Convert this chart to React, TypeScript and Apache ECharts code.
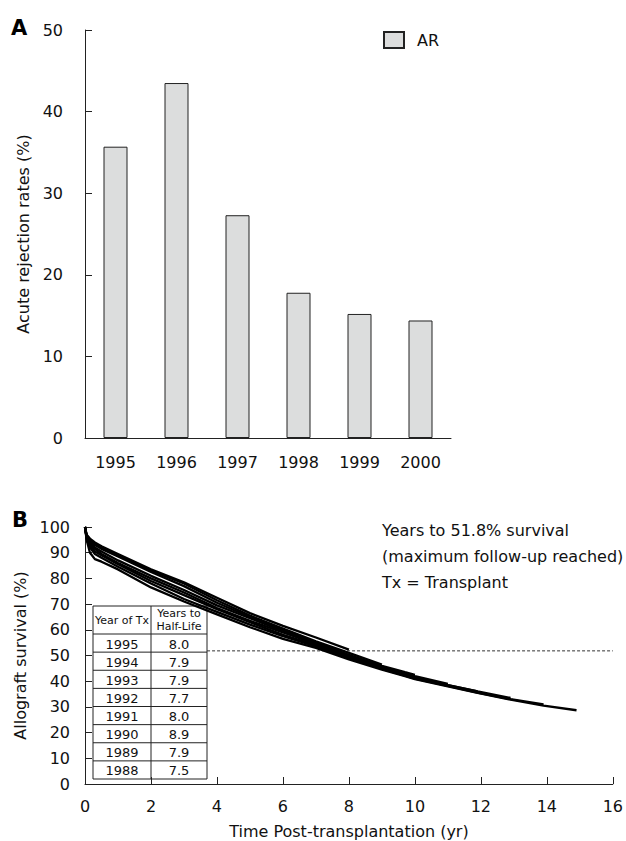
import React, { useEffect, useRef } from "react";
import * as echarts from "echarts";

// ---------- Panel A data ----------
const arYears = ["1995", "1996", "1997", "1998", "1999", "2000"];
const arRates = [35.7, 43.5, 27.3, 17.8, 15.2, 14.4];

// ---------- Panel B data ----------
const timeGrid = [0, 0.05, 0.15, 0.3, 0.5, 1, 2, 3, 4, 5, 6, 7, 8, 9, 9.7, 10, 11, 11.9, 12.9, 13.9, 14.9];
const surv1995 = [100, 97, 95.5, 94, 92.5, 89.5, 83.5, 78.5, 72.5, 66.5, 61.5, 57, 52.3];
const surv1994 = [100, 96.8, 95, 93.5, 92, 89, 83, 78, 71.5, 65.5, 60.5, 55.5, 51, 46.5];
const surv1993 = [100, 96.5, 94.5, 93, 91.5, 88.5, 82.5, 77, 70.5, 65, 60, 55, 50.3, 46, 43.5, 42.5];
const surv1992 = [100, 96.2, 94, 92, 90.5, 87, 81, 75.5, 69.5, 64.5, 59.5, 54.5, 49.8, 45.5, 43, 42, 39];
const surv1991 = [100, 96, 93.5, 91.5, 89.5, 86, 80, 74.5, 68.5, 63.5, 59, 54.5, 50, 45.5, 42.5, 41.5, 38.5, 36];
const surv1990 = [100, 95.8, 93, 90.5, 89, 85.5, 79, 73.5, 68, 63, 58, 54, 49.5, 45, 42.5, 41.5, 38.5, 36, 33.5];
const surv1989 = [100, 95.5, 92, 89.5, 88, 84.5, 78, 72, 67, 62, 57.5, 53.5, 49, 44.8, 42.2, 41, 38.2, 35.6, 33, 31];
const surv1988 = [100, 95, 90, 87.5, 86.5, 83.5, 76.5, 71, 66, 61, 56.5, 53, 48.5, 44.5, 42, 40.8, 38, 35.5, 32.8, 30.5, 28.7];
const survivalCurves = [surv1995, surv1994, surv1993, surv1992, surv1991, surv1990, surv1989, surv1988];
const referenceSurvival = 51.8;
const referenceLineFrom = 3.7;
const referenceLineTo = 16;

const tableYears = ["1995", "1994", "1993", "1992", "1991", "1990", "1989", "1988"];
const tableHalfLife = ["8.0", "7.9", "7.9", "7.7", "8.0", "8.9", "7.9", "7.5"];

const FONT = '"DejaVu Sans", Verdana, sans-serif';

function buildTable() {
  const colW = [58, 56];
  const headH = 28;
  const rowH = 18.125;
  const totalW = colW[0] + colW[1];
  const totalH = headH + rowH * tableYears.length;
  const children: any[] = [];
  children.push({
    type: "rect",
    shape: { x: 0, y: 0, width: totalW, height: totalH },
    style: { fill: "#fff", stroke: "#222", lineWidth: 1 },
  });
  children.push({
    type: "line",
    shape: { x1: colW[0], y1: 0, x2: colW[0], y2: totalH },
    style: { stroke: "#222", lineWidth: 1 },
  });
  for (let i = 0; i < tableYears.length; i++) {
    const y = headH + rowH * i;
    children.push({
      type: "line",
      shape: { x1: 0, y1: y, x2: totalW, y2: y },
      style: { stroke: "#222", lineWidth: 1 },
    });
    children.push({
      type: "text",
      x: colW[0] / 2,
      y: y + rowH / 2 + 1,
      style: { text: tableYears[i], fontSize: 13, fontFamily: FONT, fill: "#111", align: "center", verticalAlign: "middle" },
    });
    children.push({
      type: "text",
      x: colW[0] + colW[1] / 2,
      y: y + rowH / 2 + 1,
      style: { text: tableHalfLife[i], fontSize: 13, fontFamily: FONT, fill: "#111", align: "center", verticalAlign: "middle" },
    });
  }
  children.push({
    type: "text",
    x: colW[0] / 2,
    y: headH / 2,
    style: { text: "Year of Tx", fontSize: 11, fontFamily: FONT, fill: "#111", align: "center", verticalAlign: "middle" },
  });
  children.push({
    type: "text",
    x: colW[0] + colW[1] / 2,
    y: headH / 2,
    style: {
      text: "Years to\nHalf-Life",
      fontSize: 11,
      lineHeight: 13,
      fontFamily: FONT,
      fill: "#111",
      align: "center",
      verticalAlign: "middle",
    },
  });
  return { type: "group", x: 93, y: 606, z: 100, zlevel: 1, children };
}

export default function App() {
  const ref = useRef<HTMLDivElement>(null);

  useEffect(() => {
    if (!ref.current) return;
    const chart = echarts.init(ref.current, null, { renderer: "svg" });

    const curveSeries = survivalCurves.map((vals, k) => ({
      name: "Tx " + tableYears[k],
      type: "line",
      xAxisIndex: 1,
      yAxisIndex: 1,
      showSymbol: false,
      symbol: "none",
      z: 5,
      lineStyle: { color: "#000", width: 2.3 },
      data: vals.map((v, i) => [timeGrid[i], v]),
    }));

    const axisLine = { show: true, lineStyle: { color: "#222", width: 1 } };
    const axisLabel = { color: "#111", fontSize: 16, fontFamily: FONT };
    const nameStyle = { color: "#111", fontSize: 16, fontFamily: FONT };

    chart.setOption({
      animation: false,
      backgroundColor: "#fff",
      textStyle: { fontFamily: FONT },
      legend: {
        data: ["AR"],
        left: 383,
        top: 31,
        itemWidth: 20,
        itemHeight: 16,
        padding: 0,
        icon: "rect",
        textStyle: { fontSize: 16, color: "#111", fontFamily: FONT, padding: [0, 0, 0, 8] },
      },
      grid: [
        { left: 85, top: 30, width: 366, height: 408 },
        { left: 85, top: 527, width: 528, height: 257 },
      ],
      xAxis: [
        {
          type: "category",
          gridIndex: 0,
          data: arYears,
          boundaryGap: true,
          axisLine,
          axisTick: { show: false },
          axisLabel: { ...axisLabel, margin: 16 },
        },
        {
          type: "value",
          gridIndex: 1,
          min: 0,
          max: 16,
          interval: 2,
          axisLine,
          axisTick: { show: true, inside: true, length: 7, lineStyle: { color: "#222" } },
          axisLabel: { ...axisLabel, margin: 14 },
          splitLine: { show: false },
          name: "Time Post-transplantation (yr)",
          nameLocation: "middle",
          nameGap: 39,
          nameTextStyle: nameStyle,
        },
      ],
      yAxis: [
        {
          type: "value",
          gridIndex: 0,
          min: 0,
          max: 50,
          interval: 10,
          axisLine,
          axisTick: { show: true, inside: true, length: 7, lineStyle: { color: "#222" } },
          axisLabel: { ...axisLabel, margin: 22 },
          splitLine: { show: false },
          name: "Acute rejection rates (%)",
          nameLocation: "middle",
          nameGap: 48,
          nameTextStyle: nameStyle,
        },
        {
          type: "value",
          gridIndex: 1,
          min: 0,
          max: 100,
          interval: 10,
          axisLine,
          axisTick: { show: true, inside: true, length: 7, lineStyle: { color: "#222" } },
          axisLabel: { ...axisLabel, margin: 15 },
          splitLine: { show: false },
          name: "Allograft survival (%)",
          nameLocation: "middle",
          nameGap: 52,
          nameTextStyle: nameStyle,
        },
      ],
      series: [
        {
          name: "AR",
          type: "bar",
          xAxisIndex: 0,
          yAxisIndex: 0,
          barWidth: 24,
          itemStyle: { color: "#dcdddd", borderColor: "#222", borderWidth: 1 },
          data: arRates,
        },
        {
          name: "ref",
          type: "line",
          xAxisIndex: 1,
          yAxisIndex: 1,
          showSymbol: false,
          symbol: "none",
          z: 3,
          lineStyle: { color: "#333", width: 1, type: [3, 2] },
          data: [
            [referenceLineFrom, referenceSurvival],
            [referenceLineTo, referenceSurvival],
          ],
        },
        ...curveSeries,
      ],
      graphic: [
        {
          type: "text",
          x: 11,
          y: 17,
          z: 100,
          style: { text: "A", fontSize: 21, fontWeight: "bold", fontFamily: FONT, fill: "#000" },
        },
        {
          type: "text",
          x: 12,
          y: 509,
          z: 100,
          style: { text: "B", fontSize: 21, fontWeight: "bold", fontFamily: FONT, fill: "#000" },
        },
        {
          type: "text",
          x: 382,
          y: 517,
          z: 100,
          style: {
            text: "Years to 51.8% survival\n(maximum follow-up reached)\nTx = Transplant",
            fontSize: 16,
            lineHeight: 26,
            fontFamily: FONT,
            fill: "#111",
          },
        },
        buildTable(),
      ],
    });

    return () => chart.dispose();
  }, []);

  return (
    <div
      ref={ref}
      style={{ position: "fixed", left: 0, top: 0, width: 626, height: 841, background: "#fff" }}
    />
  );
}
